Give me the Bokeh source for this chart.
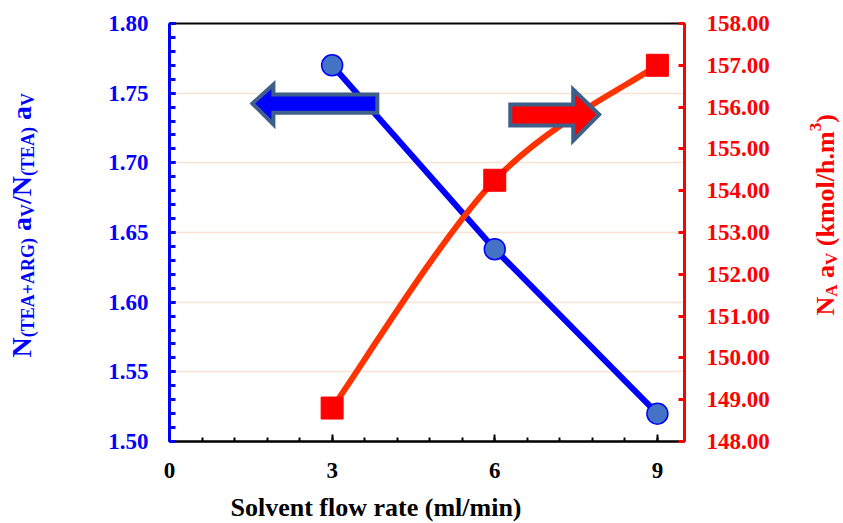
import numpy as np
from math import pi
from bokeh.plotting import figure
from bokeh.layouts import row
from bokeh.models import Range1d, LinearAxis, Label, Title, FixedTicker, PrintfTickFormatter
from bokeh.embed import file_html
from bokeh.resources import INLINE

# ---- data ----
flow_rate = [3, 6, 9]
ratio = [1.770, 1.638, 1.520]          # left axis (blue)
flux = [148.80, 154.25, 157.00]        # right axis (red)

x_ticks = [0, 3, 6, 9]
left_ticks = [1.50, 1.55, 1.60, 1.65, 1.70, 1.75, 1.80]
right_ticks = [148, 149, 150, 151, 152, 153, 154, 155, 156, 157, 158]

FONT = "Liberation Serif"
BLUE = "#0000ff"
RED = "#ff0000"
H = 523

p = figure(width=744, height=H, x_range=Range1d(0, 9.5), y_range=Range1d(1.50, 1.80),
           output_backend="svg", toolbar_location=None,
           min_border_left=109, min_border_right=120, min_border_top=23, min_border_bottom=82)
p.extra_y_ranges = {"flux": Range1d(148, 158)}
p.outline_line_color = "black"
p.outline_line_width = 2

# x axis
xa = p.xaxis[0]
xa.ticker = FixedTicker(ticks=x_ticks, minor_ticks=list(np.round(np.arange(0, 9.5, 0.6), 2)))
xa.axis_line_color = "black"
xa.axis_line_width = 2
xa.major_tick_in = 7
xa.major_tick_out = 0
xa.minor_tick_in = 4
xa.minor_tick_out = 0
xa.major_tick_line_width = 2
xa.minor_tick_line_width = 2
xa.major_tick_line_color = "black"
xa.minor_tick_line_color = "black"
xa.major_label_text_font = FONT
xa.major_label_text_font_style = "bold"
xa.major_label_text_font_size = "23px"
xa.major_label_text_color = "black"
xa.major_label_standoff = 21

# x axis title (left-shifted as in the original)
p.add_layout(Title(text="Solvent flow rate (ml/min)", align="left", offset=61, standoff=0,
                   padding=(0, 0, 10, 0),
                   text_font=FONT, text_font_style="bold", text_font_size="26px",
                   text_color="black"), "below")

# left axis
ya = p.yaxis[0]
ya.ticker = FixedTicker(ticks=left_ticks, minor_ticks=list(np.round(np.arange(1.50, 1.805, 0.01), 2)))
ya.formatter = PrintfTickFormatter(format="%.2f")
ya.axis_line_color = BLUE
ya.axis_line_width = 3
ya.major_tick_in = 6
ya.major_tick_out = 0
ya.minor_tick_in = 6
ya.minor_tick_out = 0
ya.major_tick_line_color = BLUE
ya.minor_tick_line_color = BLUE
ya.major_tick_line_width = 3
ya.minor_tick_line_width = 3
ya.major_label_text_font = FONT
ya.major_label_text_font_style = "bold"
ya.major_label_text_font_size = "23px"
ya.major_label_text_color = BLUE
ya.major_label_standoff = 21

# right axis
ra = LinearAxis(y_range_name="flux",
                ticker=FixedTicker(ticks=right_ticks, minor_ticks=[]),
                formatter=PrintfTickFormatter(format="%.2f"))
ra.axis_line_color = RED
ra.axis_line_width = 3
ra.major_tick_in = 6
ra.major_tick_out = 0
ra.minor_tick_in = 0
ra.minor_tick_out = 0
ra.major_tick_line_color = RED
ra.major_tick_line_width = 3
ra.major_label_text_font = FONT
ra.major_label_text_font_style = "bold"
ra.major_label_text_font_size = "23px"
ra.major_label_text_color = RED
ra.major_label_standoff = 22
p.add_layout(ra, "right")

# grid
p.xgrid.visible = False
p.ygrid[0].ticker = FixedTicker(ticks=left_ticks[1:-1])
p.ygrid[0].grid_line_color = "#fbe3d3"
p.ygrid[0].grid_line_width = 1.5

# blue series
p.line(flow_rate, ratio, line_color=BLUE, line_width=6)

# red series: smoothed curve (Bezier segments, control points from the data points)
fx = np.array(flow_rate, dtype=float)
fy = np.array(flux, dtype=float)
n = len(fx)
x0s, y0s, x1s, y1s, cx0s, cy0s, cx1s, cy1s = [], [], [], [], [], [], [], []
for i in range(n - 1):
    im1 = max(i - 1, 0)
    ip2 = min(i + 2, n - 1)
    x0s.append(fx[i]); y0s.append(fy[i]); x1s.append(fx[i + 1]); y1s.append(fy[i + 1])
    cx0s.append(fx[i] + (fx[i + 1] - fx[im1]) / 6); cy0s.append(fy[i] + (fy[i + 1] - fy[im1]) / 6)
    cx1s.append(fx[i + 1] - (fx[ip2] - fx[i]) / 6); cy1s.append(fy[i + 1] - (fy[ip2] - fy[i]) / 6)
p.bezier(x0=x0s, y0=y0s, x1=x1s, y1=y1s, cx0=cx0s, cy0=cy0s, cx1=cx1s, cy1=cy1s,
         line_color="#ff3300", line_width=6, y_range_name="flux")

p.scatter(flow_rate, ratio, marker="circle", size=21, fill_color="#4472c4", line_color=BLUE, line_width=1.5)
p.scatter(flow_rate, flux, marker="square", size=22, fill_color=RED, line_color=RED, y_range_name="flux")

# block arrows (annotation shapes, left-axis units)
left_arrow_x = [1.53, 1.917, 1.917, 3.834, 3.834, 1.917, 1.917]
left_arrow_y = [1.7426, 1.7562, 1.749, 1.749, 1.736, 1.736, 1.7275]
right_arrow_x = [6.286, 7.447, 7.447, 7.926, 7.447, 7.447, 6.286]
right_arrow_y = [1.7419, 1.7419, 1.7526, 1.7347, 1.716, 1.7268, 1.7268]
p.patch(left_arrow_x, left_arrow_y, fill_color=BLUE, line_color="#3e5f8a", line_width=4, line_join="miter")
p.patch(right_arrow_x, right_arrow_y, fill_color=RED, line_color="#3e5f8a", line_width=4, line_join="miter")


# side panels carrying the rotated axis titles (with sub/superscripts)
def side_fig(w):
    f = figure(width=w, height=H, x_axis_type=None, y_axis_type=None,
               output_backend="svg", toolbar_location=None, min_border=0,
               x_range=Range1d(0, 1), y_range=Range1d(0, 1))
    f.outline_line_color = None
    f.grid.visible = False
    return f


W = {"N": .722, "(": .333, ")": .333, "T": .667, "E": .667, "A": .722, "+": .570, "R": .722,
     "G": .778, " ": .25, "a": .5, "V": .722, "/": .278, "k": .556, "m": .833, "o": .5,
     "l": .278, "h": .556, ".": .25, "3": .5}


def rich_label(fig, segments, x0, y0, color):
    pos = 0.0
    for text, size, shift in segments:
        stripped = text.lstrip(" ")
        pos += (len(text) - len(stripped)) * W[" "] * size
        if stripped:
            fig.add_layout(Label(x=x0 - shift, y=y0 + pos, x_units="screen", y_units="screen",
                                 text=stripped, angle=pi / 2, text_font=FONT, text_font_style="bold",
                                 text_font_size=f"{size}px", text_color=color,
                                 text_align="left", text_baseline="alphabetic"))
        pos += sum(W[c] for c in stripped) * size


left_panel = side_fig(60)
rich_label(left_panel, [("N", 28, 0), ("(TEA+ARG)", 18, -6), (" a", 28, 0), ("V", 18, -6),
                        ("/N", 28, 0), ("(TEA)", 18, -6), (" a", 28, 0), ("V", 18, -6)],
           21, 84, BLUE)

right_panel = side_fig(39)
rich_label(right_panel, [("N", 26, 0), ("A", 17, -6), (" a", 26, 0), ("V", 17, -6),
                         (" (kmol/h.m", 26, 0), ("3", 17, 10), (")", 26, 0)],
           21, 126, RED)

layout = row(left_panel, p, right_panel, spacing=0)
open("out.html", "w").write(file_html(layout, INLINE))
